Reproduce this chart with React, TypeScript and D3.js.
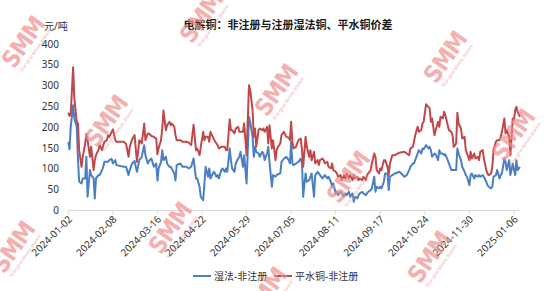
import React from "react";
import * as d3 from "d3";

const chartTitle = "电解铜：非注册与注册湿法铜、平水铜价差";
const unitLabel = "元/吨";
const seriesNames = ["湿法-非注册", "平水铜-非注册"];
const yTicks = [0, 50, 100, 150, 200, 250, 300, 350, 400];
const xTickLabels = [
  "2024-01-02", "2024-02-08", "2024-03-16", "2024-04-22", "2024-05-29", "2024-07-05",
  "2024-08-11", "2024-09-17", "2024-10-24", "2024-11-30", "2025-01-06",
];

const categories = [
  "2024-01-02","2024-01-03","2024-01-04","2024-01-06","2024-01-07","2024-01-09","2024-01-10","2024-01-11","2024-01-13","2024-01-14",
  "2024-01-16","2024-01-17","2024-01-18","2024-01-20","2024-01-21","2024-01-23","2024-01-24","2024-01-25","2024-01-27","2024-01-28",
  "2024-01-30","2024-01-31","2024-02-01","2024-02-03","2024-02-04","2024-02-05","2024-02-07","2024-02-08","2024-02-10","2024-02-11",
  "2024-02-17","2024-02-19","2024-02-21","2024-02-22","2024-02-24","2024-02-26","2024-02-27","2024-02-28","2024-03-01","2024-03-03",
  "2024-03-05","2024-03-06","2024-03-08","2024-03-09","2024-03-11","2024-03-13","2024-03-15","2024-03-16","2024-03-17","2024-03-19",
  "2024-03-20","2024-03-21","2024-03-23","2024-03-24","2024-03-26","2024-03-27","2024-03-28","2024-03-30","2024-03-31","2024-04-01",
  "2024-04-04","2024-04-06","2024-04-09","2024-04-11","2024-04-13","2024-04-15","2024-04-17","2024-04-18","2024-04-20","2024-04-21",
  "2024-04-23","2024-04-24","2024-04-25","2024-04-27","2024-04-28","2024-04-29","2024-05-01","2024-05-02","2024-05-04","2024-05-05",
  "2024-05-06","2024-05-08","2024-05-09","2024-05-11","2024-05-12","2024-05-13","2024-05-15","2024-05-16","2024-05-17","2024-05-19",
  "2024-05-20","2024-05-22","2024-05-23","2024-05-24","2024-05-26","2024-05-27","2024-05-29","2024-05-31","2024-06-01","2024-06-03",
  "2024-06-04","2024-06-05","2024-06-06","2024-06-08","2024-06-09","2024-06-11","2024-06-12","2024-06-13","2024-06-15","2024-06-16",
  "2024-06-17","2024-06-19","2024-06-20","2024-06-22","2024-06-23","2024-06-24","2024-06-26","2024-06-27","2024-06-29","2024-07-01",
  "2024-07-03","2024-07-04","2024-07-05","2024-07-06","2024-07-07","2024-07-09","2024-07-11","2024-07-13","2024-07-14","2024-07-15",
  "2024-07-17","2024-07-18","2024-07-20","2024-07-21","2024-07-22","2024-07-24","2024-07-25","2024-07-27","2024-07-28","2024-07-29",
  "2024-07-31","2024-08-01","2024-08-02","2024-08-04","2024-08-05","2024-08-07","2024-08-08","2024-08-09","2024-08-11","2024-08-12",
  "2024-08-13","2024-08-15","2024-08-16","2024-08-18","2024-08-19","2024-08-20","2024-08-22","2024-08-23","2024-08-25","2024-08-26",
  "2024-08-27","2024-08-29","2024-08-30","2024-08-31","2024-09-02","2024-09-03","2024-09-05","2024-09-06","2024-09-07","2024-09-09",
  "2024-09-10","2024-09-12","2024-09-13","2024-09-14","2024-09-16","2024-09-17","2024-09-18","2024-09-20","2024-09-21","2024-09-23",
  "2024-09-24","2024-09-25","2024-09-27","2024-09-29","2024-10-03","2024-10-07","2024-10-09","2024-10-11","2024-10-12","2024-10-14",
  "2024-10-15","2024-10-16","2024-10-18","2024-10-19","2024-10-21","2024-10-22","2024-10-23","2024-10-25","2024-10-27","2024-10-28",
  "2024-10-29","2024-10-30","2024-11-01","2024-11-02","2024-11-04","2024-11-05","2024-11-06","2024-11-08","2024-11-09","2024-11-10",
  "2024-11-12","2024-11-13","2024-11-15","2024-11-16","2024-11-17","2024-11-19","2024-11-20","2024-11-21","2024-11-23","2024-11-24",
  "2024-11-26","2024-11-27","2024-11-28","2024-11-30","2024-12-01","2024-12-02","2024-12-04","2024-12-05","2024-12-07","2024-12-08",
  "2024-12-09","2024-12-11","2024-12-12","2024-12-14","2024-12-15","2024-12-16","2024-12-18","2024-12-19","2024-12-20","2024-12-22",
  "2024-12-23","2024-12-25","2024-12-26","2024-12-27","2024-12-29","2024-12-30","2024-12-31","2025-01-02","2025-01-03","2025-01-05",
  "2025-01-06","2025-01-07","2025-01-08","2025-01-09","2025-01-11",
];

// 湿法-非注册
const wetSeries = [
  165,147,201,253,221,201,125,69,65,77,
  77,129,33,97,85,77,29,77,85,85,
  97,105,117,117,117,121,124,113,121,109,
  105,105,85,97,113,119,105,93,121,129,
  157,133,113,119,125,105,113,72,101,117,
  145,121,129,113,105,105,100,89,72,109,
  113,105,105,101,105,125,77,77,57,33,
  25,65,105,81,101,77,89,93,81,85,
  77,97,101,93,101,93,149,121,101,93,
  113,125,129,141,105,133,65,225,213,177,
  129,153,141,137,129,141,137,121,137,153,
  117,57,85,81,85,87,89,117,125,129,
  121,113,165,113,109,113,117,125,113,33,
  89,69,73,81,89,33,85,93,89,85,
  77,81,85,77,81,69,57,65,41,45,
  37,45,41,33,41,37,45,33,41,21,
  33,29,37,41,45,41,37,41,45,49,
  53,81,45,57,53,57,53,69,89,89,
  49,81,85,89,93,81,85,97,105,113,
  113,121,137,145,137,149,147,157,149,153,
  145,129,137,135,121,145,137,137,133,135,
  121,113,97,97,97,97,149,137,121,105,
  93,85,81,61,85,89,77,85,81,85,
  81,85,81,69,61,57,53,57,81,85,
  97,77,85,89,125,117,97,121,85,113,
  97,85,121,97,105,
];

// 平水铜-非注册
const flatSeries = [
  235,227,232,344,270,213,210,145,105,129,
  161,184,169,129,153,97,121,133,145,157,
  145,157,165,169,181,177,189,195,169,165,
  165,160,129,153,171,181,149,117,169,161,
  209,169,185,185,179,177,173,135,150,169,
  197,240,193,205,213,205,209,201,181,169,
  169,165,165,163,157,206,145,149,133,153,
  189,169,177,177,165,189,177,170,161,157,
  149,153,153,153,145,145,219,193,193,185,
  197,201,189,189,189,209,133,301,289,241,
  177,197,153,193,197,193,197,189,201,161,
  205,149,169,121,145,153,161,181,189,177,
  175,169,213,165,149,153,169,173,145,105,
  177,153,129,145,121,141,113,121,109,121,
  125,121,113,117,105,101,113,97,93,89,
  81,85,73,85,77,89,77,85,73,85,
  77,81,73,77,73,81,73,85,89,97,
  113,137,129,97,89,101,97,121,121,105,
  85,113,133,133,139,141,137,133,149,153,
  165,181,201,189,193,209,213,255,249,245,
  213,221,181,193,213,201,225,221,237,229,
  205,193,189,181,153,161,235,209,197,173,
  177,145,137,121,141,125,137,125,129,121,
  141,145,125,97,89,85,89,105,145,165,
  169,169,177,189,221,185,193,177,133,221,
  217,241,249,237,225,
];

const W = 547;
const H = 291;
const FONT = "'Noto Sans', 'Noto Sans CJK SC', sans-serif";
const BLUE = "#4a7fc3";
const RED = "#c0484a";

const watermarkSpots = [
  [30, 47], [208, 22], [113, 126], [283, 95], [452, 62], [520, 140],
  [20, 252], [177, 233], [355, 182], [436, 262], [272, 298],
];

export default function App() {
  const parse = d3.utcParse("%Y-%m-%d");
  const x = d3
    .scaleUtc()
    .domain([parse("2024-01-02")!, parse("2025-01-11")!])
    .range([68.3, 520]);
  const y = d3.scaleLinear().domain([0, 400]).range([210.5, 44]);

  const dates = categories.map((c) => parse(c)!);
  const lineGen = d3
    .line<number>()
    .x((_, i) => x(dates[i]))
    .y((v) => y(v));

  const axisY = y(0);

  return (
    <svg
      width={W}
      height={H}
      style={{ position: "absolute", left: 0, top: 0, background: "#fff" }}
      fontFamily={FONT}
    >
      <rect width={W} height={H} fill="#fff" />

      {/* title */}
      <text x={288} y={29} textAnchor="middle" fontSize={11} fontWeight={700} fill="#1a1a1a">
        {chartTitle}
      </text>
      <text x={44} y={30} fontSize={10} fill="#333">
        {unitLabel}
      </text>

      {/* y tick labels */}
      {yTicks.map((t) => (
        <text key={t} x={59} y={y(t)} dy="0.35em" textAnchor="end" fontSize={10} fill="#333">
          {t}
        </text>
      ))}

      {/* x axis */}
      <line x1={68.3} x2={520} y1={axisY} y2={axisY} stroke="#d9d9d9" strokeWidth={1} />
      {xTickLabels.map((l) => {
        const xx = x(parse(l)!);
        return (
          <g key={l}>
            <line x1={xx} x2={xx} y1={axisY} y2={axisY + 4} stroke="#d9d9d9" />
            <text
              transform={`translate(${xx + 2},${axisY + 7}) rotate(-45)`}
              textAnchor="end"
              dy="0.35em"
              fontSize={10}
              fill="#333"
            >
              {l}
            </text>
          </g>
        );
      })}

      {/* series */}
      <path d={lineGen(wetSeries) || ""} fill="none" stroke={BLUE} strokeWidth={2} strokeLinejoin="round" />
      <path d={lineGen(flatSeries) || ""} fill="none" stroke={RED} strokeWidth={2} strokeLinejoin="round" />

      {/* legend */}
      <line x1={193} x2={211} y1={276} y2={276} stroke={BLUE} strokeWidth={2} />
      <text x={214} y={276} dy="0.35em" fontSize={10} fill="#333">
        {seriesNames[0]}
      </text>
      <line x1={274} x2={292} y1={276} y2={276} stroke={RED} strokeWidth={2} />
      <text x={295} y={276} dy="0.35em" fontSize={10} fill="#333">
        {seriesNames[1]}
      </text>

      {/* watermarks */}
      {watermarkSpots.map(([cx, cy], i) => (
        <g key={i} transform={`translate(${cx},${cy}) rotate(-55)`} opacity={0.7}>
          <text
            textAnchor="middle"
            fontSize={24}
            fontWeight={900}
            fill="#f08e8e"
            fontFamily="'DejaVu Sans Condensed', 'Liberation Sans Narrow', sans-serif"
            letterSpacing={-1}
          >
            SMM
          </text>
          <text y={8} textAnchor="middle" fontSize={4.5} fill="#f08e8e">
            Shanghai Metals Market
          </text>
        </g>
      ))}
    </svg>
  );
}
